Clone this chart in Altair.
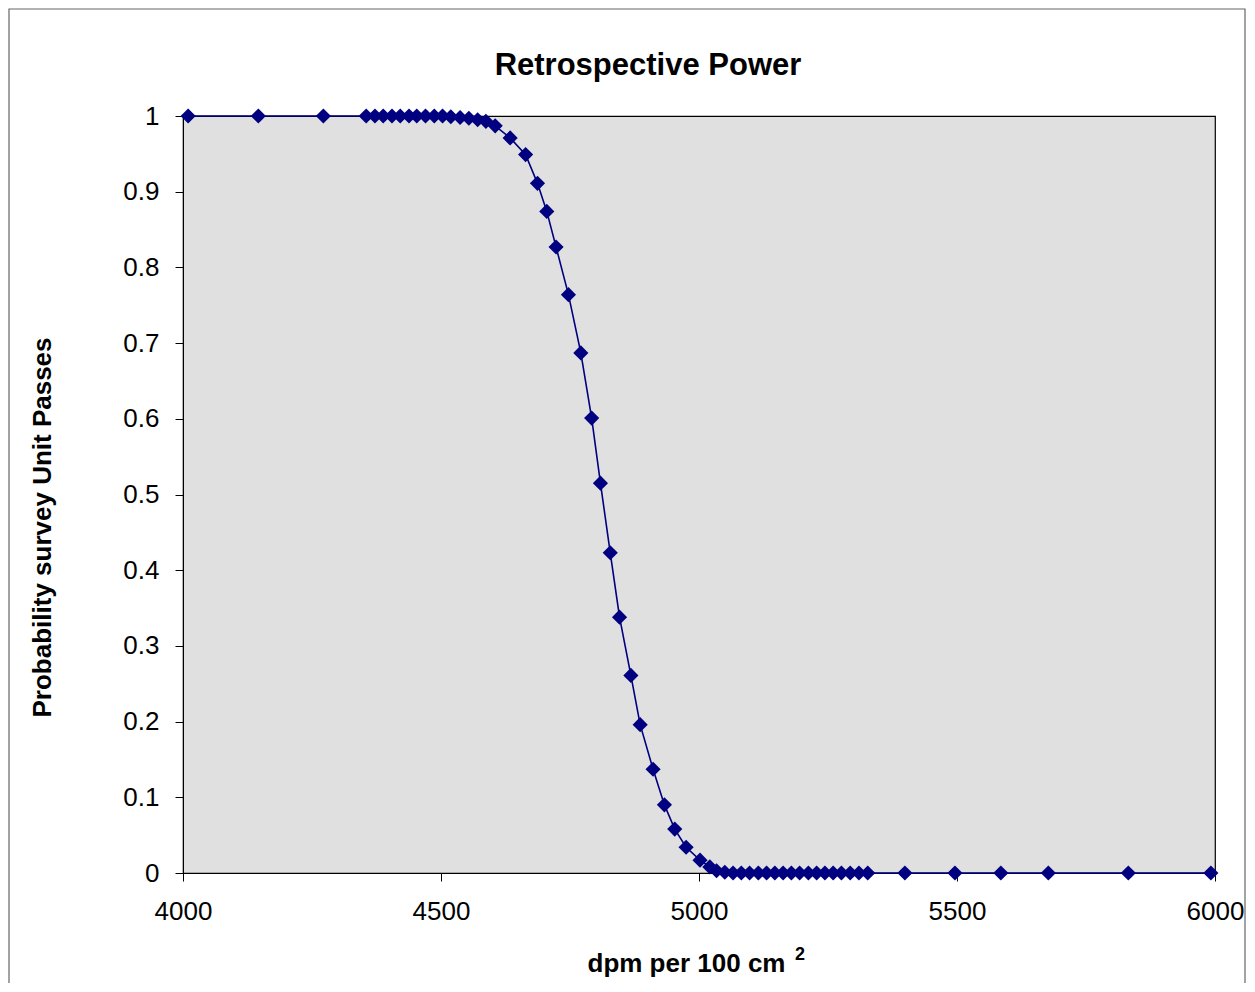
import altair as alt
import pandas as pd

# dpm per 100 cm^2 (x) and probability survey unit passes (y)
dpm = [4010, 4146, 4272,
       4355, 4372, 4388, 4405, 4421, 4438, 4453, 4470, 4487, 4503, 4519, 4537,
       4554, 4571, 4587, 4605, 4634, 4664, 4687, 4705, 4723, 4747, 4771, 4792,
       4809, 4828, 4846, 4868, 4886, 4911, 4933, 4953, 4975, 5002, 5021, 5034,
       5050, 5066, 5082, 5098, 5115, 5131, 5147, 5163, 5179, 5195, 5212, 5228,
       5244, 5260, 5276, 5293, 5310, 5327,
       5399, 5496, 5585, 5677, 5832, 5992]
prob = [1.0, 1.0, 1.0,
        1.0, 1.0, 1.0, 1.0, 1.0, 1.0, 1.0, 1.0, 1.0, 1.0, 0.999, 0.998,
        0.997, 0.995, 0.993, 0.987, 0.971, 0.949, 0.911, 0.874, 0.827, 0.764, 0.687, 0.601,
        0.515, 0.423, 0.338, 0.261, 0.196, 0.137, 0.090, 0.058, 0.034, 0.017, 0.008, 0.003,
        0.001, 0.0, 0.0, 0.0, 0.0, 0.0, 0.0, 0.0, 0.0, 0.0, 0.0, 0.0,
        0.0, 0.0, 0.0, 0.0, 0.0, 0.0,
        0.0, 0.0, 0.0, 0.0, 0.0, 0.0]

x_ticks = [4000, 4500, 5000, 5500, 6000]
y_ticks = [0, 0.1, 0.2, 0.3, 0.4, 0.5, 0.6, 0.7, 0.8, 0.9, 1.0]

chart_title = "Retrospective Power"
x_title = "dpm per 100 cm"
x_title_sup = "2"
y_title = "Probability survey Unit Passes"

df = pd.DataFrame({"dpm": dpm, "prob": prob})

FONT = "Liberation Sans"
NAVY = "#000080"

x_enc = alt.X("dpm:Q", scale=alt.Scale(domain=[4000, 6000], nice=False),
              axis=alt.Axis(values=x_ticks, format="d", title=x_title,
                            grid=False, tickSize=8, labelPadding=17,
                            labelFontSize=26, titleFontSize=26, titleFontWeight="bold",
                            labelFont=FONT, titleFont=FONT,
                            labelColor="black", titleColor="black",
                            domainColor="black", tickColor="black",
                            titleX=503, titleY=98, titleAlign="center",
                            titleBaseline="alphabetic",
                            labelFlush=False))
y_enc = alt.Y("prob:Q", scale=alt.Scale(domain=[0, 1], nice=False),
              axis=alt.Axis(values=y_ticks, format="~g", title=y_title,
                            grid=False, tickSize=8, labelPadding=16,
                            labelFontSize=26, titleFontSize=26, titleFontWeight="bold",
                            labelFont=FONT, titleFont=FONT,
                            labelColor="black", titleColor="black",
                            domainColor="black", tickColor="black",
                            titleX=-141, titleY=411, titleAngle=270,
                            titleAlign="center", titleBaseline="middle",
                            labelFlush=False))

line = alt.Chart(df).mark_line(color=NAVY, strokeWidth=1.6).encode(x=x_enc, y=y_enc)
pts = alt.Chart(df).mark_point(shape="diamond", filled=True, size=230,
                               color=NAVY, opacity=1).encode(x="dpm:Q", y="prob:Q")

one = pd.DataFrame({"k": [0]})
frame = alt.Chart(one).mark_rect(
    fill=None, stroke="#666666", strokeWidth=1.2, clip=False
).encode(x=alt.value(-174), x2=alt.value(1062), y=alt.value(-107), y2=alt.value(880))

title_txt = alt.Chart(one).mark_text(
    text=chart_title, font=FONT, fontSize=31, fontWeight="bold", color="black",
    align="center", baseline="alphabetic"
).encode(x=alt.value(465), y=alt.value(-41))

sup_txt = alt.Chart(one).mark_text(
    text=x_title_sup, font=FONT, fontSize=18, fontWeight="bold", color="black",
    align="left", baseline="alphabetic"
).encode(x=alt.value(612), y=alt.value(844))

chart = alt.layer(frame, line, pts, title_txt, sup_txt).properties(
    width=1032, height=757,
    autosize=alt.AutoSizeParams(type="none"),
    padding={"left": 175, "top": 108, "right": 31, "bottom": 110},
).configure_view(fill="#E0E0E0", stroke="black", strokeWidth=1.2)

chart.save("out.html", embed_options={"renderer": "svg", "actions": False})
